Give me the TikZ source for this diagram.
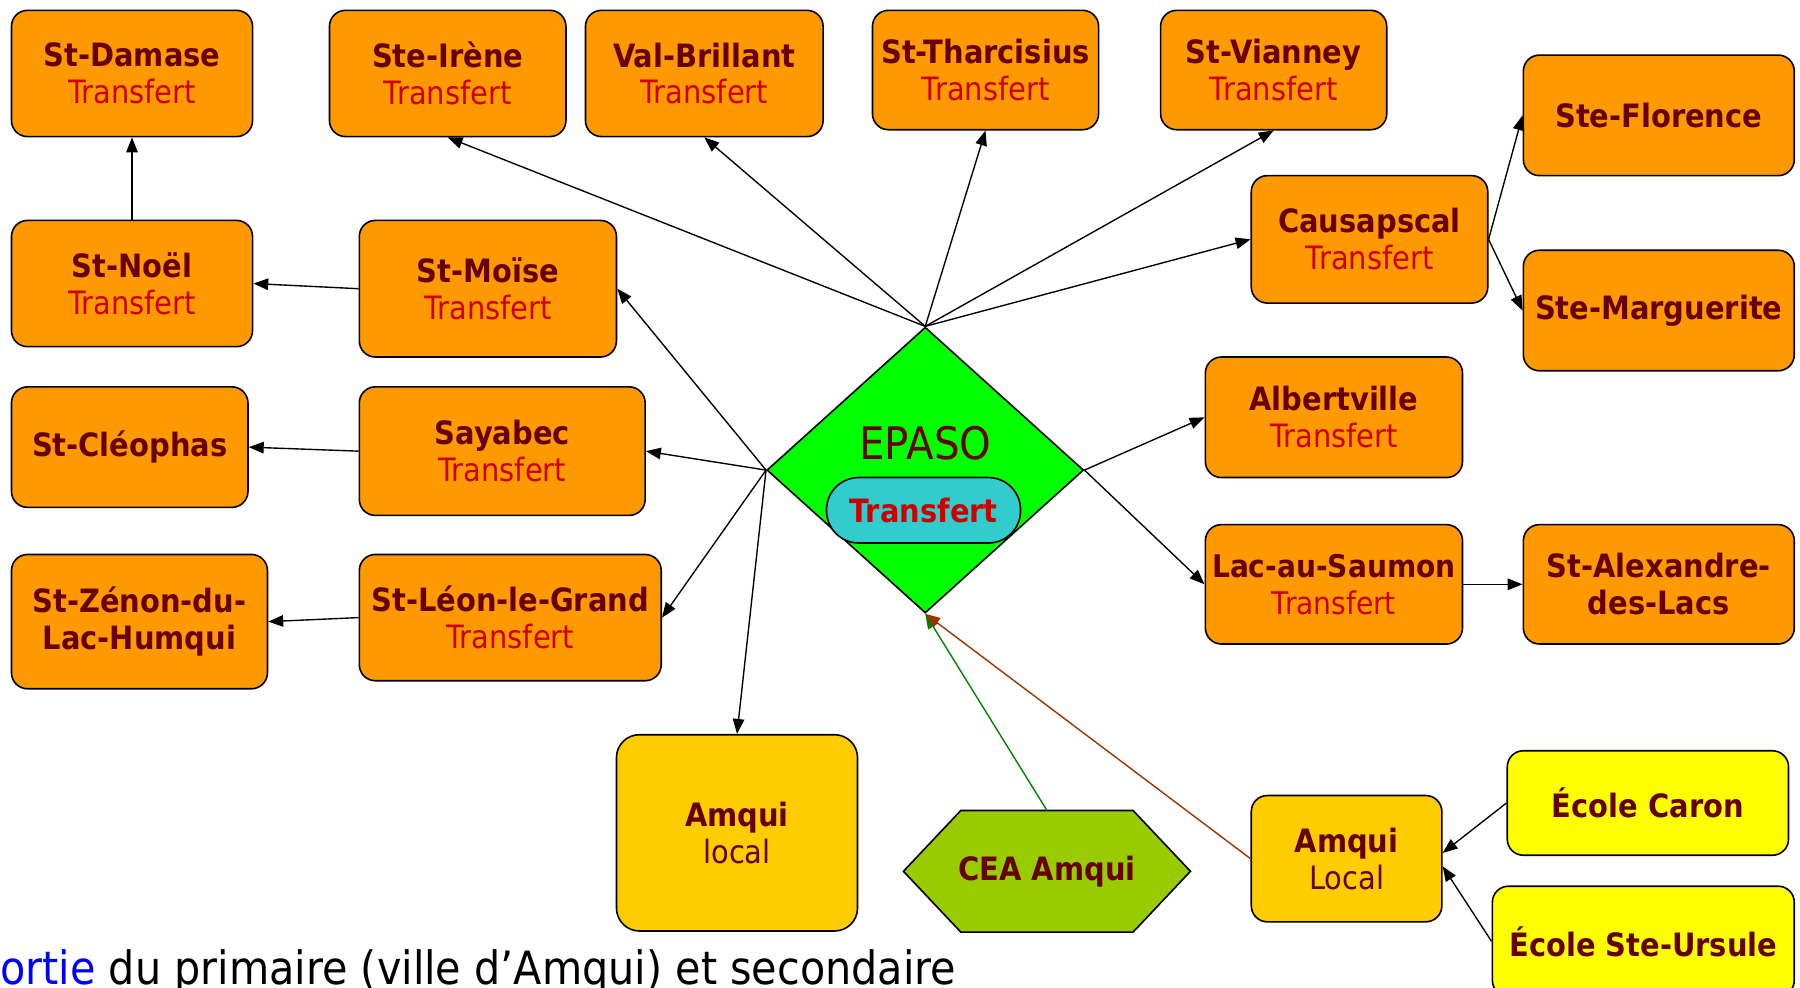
\documentclass[tikz,border=0pt]{standalone}
\usepackage{fontspec}
\setmainfont{DejaVu Sans}[FakeStretch=0.9]
\usetikzlibrary{arrows.meta,shapes.geometric,calc}
\definecolor{orgF}{HTML}{FF9900}
\definecolor{titleC}{HTML}{660000}
\definecolor{transC}{HTML}{CC0000}
\definecolor{diamG}{HTML}{00FF00}
\definecolor{ovalC}{HTML}{33CCCC}
\definecolor{amquiC}{HTML}{FFCC00}
\definecolor{ecoleC}{HTML}{FFFF00}
\definecolor{ceaC}{HTML}{99CC00}
\definecolor{greenL}{HTML}{008000}
\definecolor{brownL}{HTML}{993300}
\definecolor{blueT}{HTML}{0000FF}
\newcommand{\trf}{\textcolor{transC}{Transfert}}
\begin{document}
\begin{tikzpicture}[x=0.5pt,y=-0.5pt,
  box/.style={draw=black,line width=0.7pt,rounded corners=7pt,fill=orgF,inner sep=0pt,
    align=center,font=\fontsize{14}{16}\selectfont,text=titleC},
  conn/.style={line width=0.6pt,-{Triangle[length=6.5pt,width=5pt]}},
]
\useasboundingbox (0,0) rectangle (1568,860.6);

% top row
\node[box,minimum width=105pt,minimum height=55pt] (damase) at (115,64) {\textbf{St-Damase}\\\trf};
\node[box,minimum width=103pt,minimum height=55pt] (irene) at (390,64) {\textbf{Ste-Irène}\\\trf};
\node[box,minimum width=103.5pt,minimum height=55pt] (valb) at (613.5,64) {\textbf{Val-Brillant}\\\trf};
\node[box,minimum width=98.5pt,minimum height=52pt] (tharc) at (858.5,61) {\textbf{St-Tharcisius}\\\trf};
\node[box,minimum width=98.5pt,minimum height=52pt] (vianney) at (1109.5,61) {\textbf{St-Vianney}\\\trf};

% right column
\node[box,minimum width=118pt,minimum height=52.5pt] (florence) at (1445,100.5) {\textbf{Ste-Florence}};
\node[box,minimum width=103pt,minimum height=55.5pt] (causap) at (1193,208.5) {\textbf{Causapscal}\\\trf};
\node[box,minimum width=118pt,minimum height=52.5pt] (marg) at (1445,270.5) {\textbf{Ste-Marguerite}};
\node[box,minimum width=112pt,minimum height=52.5pt] (albert) at (1162,363.5) {\textbf{Albertville}\\\trf};
\node[box,minimum width=112pt,minimum height=52pt,font=\fontsize{13.6}{16}\selectfont] (lac) at (1162,509) {\textbf{Lac-au-Saumon}\\\trf};
\node[box,minimum width=118pt,minimum height=52pt] (alex) at (1445,509) {\textbf{St-Alexandre-}\\\textbf{des-Lacs}};

% left side
\node[box,minimum width=105pt,minimum height=55pt] (noel) at (115,247) {\textbf{St-Noël}\\\trf};
\node[box,minimum width=112pt,minimum height=59.5pt] (moise) at (425,251.5) {\textbf{St-Moïse}\\\trf};
\node[box,minimum width=124.5pt,minimum height=56pt] (sayabec) at (437.5,393) {\textbf{Sayabec}\\\trf};
\node[box,minimum width=103pt,minimum height=52.5pt] (cleo) at (113,389.5) {\textbf{St-Cléophas}};
\node[box,minimum width=111.5pt,minimum height=58.5pt] (zenon) at (121.5,541.5) {\textbf{St-Zénon-du-}\\\textbf{Lac-Humqui}};
\node[box,minimum width=131.5pt,minimum height=55pt] (leon) at (444.5,538) {\textbf{St-Léon-le-Grand}\\\trf};

% bottom
\node[box,fill=amquiC,rounded corners=10pt,minimum width=105pt,minimum height=85.5pt] (amqui) at (642,725.5) {\textbf{Amqui}\\local};
\node[box,fill=amquiC,minimum width=83pt,minimum height=55pt] (amquil) at (1173,748) {\textbf{Amqui}\\Local};
\node[box,fill=ecoleC,minimum width=122.5pt,minimum height=45.5pt] (caron) at (1435.5,699.5) {\textbf{École Caron}};
\node[box,fill=ecoleC,minimum width=131.5pt,minimum height=48pt] (ursule) at (1431.5,820) {\textbf{École Ste-Ursule}};

% hexagon
\draw[line width=0.7pt,fill=ceaC] (787,759) -- (837,706) -- (987,706) -- (1037,759) -- (987,812) -- (837,812) -- cycle;
\node[font=\bfseries\fontsize{14}{16}\selectfont,text=titleC,inner sep=0pt] (cea) at (912,759) {CEA Amqui};
\coordinate (ceatop) at (912,706);

% EPASO diamond
\node[diamond,draw=black,line width=0.7pt,fill=diamG,minimum width=138pt,minimum height=124.5pt,inner sep=0pt] (epaso) at (806,409.5) {};
\node[font=\fontsize{19.5}{22}\selectfont,text=titleC,inner sep=0pt] (epasot) at (806,386) {EPASO};
\node[draw=black,line width=0.7pt,fill=ovalC,rounded corners=14pt,minimum width=84.5pt,minimum height=28.5pt,inner sep=0pt,
  font=\bfseries\fontsize{14}{16}\selectfont,text=transC] (oval) at (804.5,444.5) {Transfert};

% connectors
\draw[conn] (noel.north) -- (damase.south);
\draw[conn] (moise.west) -- (noel.east);
\draw[conn] (sayabec.west) -- (cleo.east);
\draw[conn] (leon.west) -- (zenon.east);
\draw[conn] (epaso.north) -- (irene.south);
\draw[conn] (epaso.north) -- (valb.south);
\draw[conn] (epaso.north) -- (tharc.south);
\draw[conn] (epaso.north) -- (vianney.south);
\draw[conn] (epaso.north) -- (causap.west);
\draw[conn] (causap.east) -- (florence.west);
\draw[conn] (causap.east) -- (marg.west);
\draw[conn] (epaso.west) -- (moise.east);
\draw[conn] (epaso.west) -- (sayabec.east);
\draw[conn] (epaso.west) -- (leon.east);
\draw[conn] (epaso.west) -- (amqui.north);
\draw[conn] (epaso.east) -- (albert.west);
\draw[conn] (epaso.east) -- (lac.west);
\draw[conn] (lac.east) -- (alex.west);
\draw[conn,greenL] (ceatop) -- (epaso.south);
\draw[conn,brownL] (amquil.west) -- (epaso.south);
\draw[conn] (caron.west) -- ([yshift=2.5pt]amquil.east);
\draw[conn] (ursule.west) -- ([yshift=-3.3pt]amquil.east);

% footer text
\node[anchor=base west,inner sep=0pt,font=\fontsize{20}{24}\selectfont] (foot) at (0,858) {\textcolor{blueT}{ortie} du primaire (ville d’Amqui) et secondaire};
\end{tikzpicture}
\end{document}
